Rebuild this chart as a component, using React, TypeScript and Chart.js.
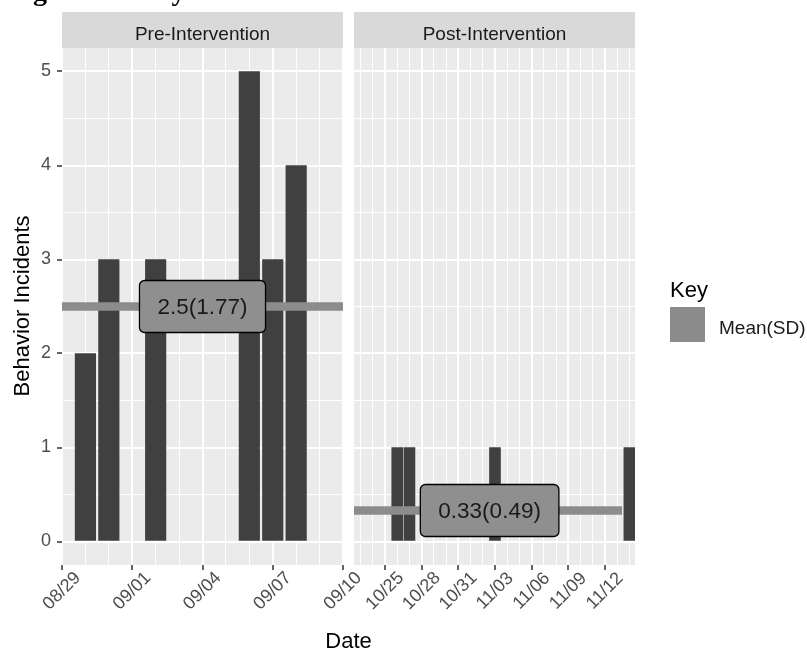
import React, { useEffect, useRef } from "react";
import { Chart, registerables } from "chart.js";

Chart.register(...registerables);

const FONT = '"Liberation Sans", Arial, Helvetica, sans-serif';
const SERIF = '"Liberation Serif", "Times New Roman", serif';
const W = 807;
const H = 650;

// ---------- data ----------
const preDates = ["08/30", "08/31", "09/02", "09/06", "09/07", "09/08"];
const preValues = [2, 3, 3, 5, 3, 4];
const postDates = ["10/26", "10/27", "11/03", "11/14"];
const postValues = [1, 1, 1, 1];

const preTickLabels = ["08/29", "09/01", "09/04", "09/07", "09/10"];
const postTickLabels = ["10/25", "10/28", "10/31", "11/03", "11/06", "11/09", "11/12"];
const yTickValues = [0, 1, 2, 3, 4, 5];

const preMean = 2.5;
const preSD = 1.77;
const postMean = 0.33;
const postSD = 0.49;

const panelTitles = ["Pre-Intervention", "Post-Intervention"];
const xTitle = "Date";
const yTitle = "Behavior Incidents";
const legendTitle = "Key";
const legendLabel = "Mean(SD)";
const headingText = "Figure 1. Daily";

// ---------- helpers ----------
function dayNum(md: string): number {
  const [m, d] = md.split("/").map(Number);
  return Date.UTC(2019, m - 1, d) / 86400000;
}

function fmtLabel(mean: number, sd: number) {
  return `${mean}(${sd})`;
}

type Panel = {
  dates: string[];
  values: number[];
  ticks: string[];
  xmin: number;
  xmax: number;
  lineX: [number, number];
  mean: number;
  label: string;
  labelX: number;
  title: string;
  padLeft: number;
  padRight: number;
  yAxisWidth: number;
  showYTicks: boolean;
  barThickness: number;
  drawGlobal: boolean;
};

const prePanel: Panel = {
  dates: preDates,
  values: preValues,
  ticks: preTickLabels,
  xmin: dayNum("08/29"),
  xmax: dayNum("09/10"),
  lineX: [dayNum("08/29"), dayNum("09/10")],
  mean: preMean,
  label: fmtLabel(preMean, preSD),
  labelX: dayNum("09/04"),
  title: panelTitles[0],
  padLeft: 0,
  padRight: W - 343,
  yAxisWidth: 62,
  showYTicks: true,
  barThickness: 20.5,
  drawGlobal: true,
};

const postPanel: Panel = {
  dates: postDates,
  values: postValues,
  ticks: postTickLabels,
  xmin: dayNum("10/22") + 0.46,
  xmax: dayNum("11/14") + 0.46,
  lineX: [dayNum("10/22") + 0.46, dayNum("11/13") + 0.4],
  mean: postMean,
  label: fmtLabel(postMean, postSD),
  labelX: dayNum("11/02") + 0.56,
  title: panelTitles[1],
  padLeft: 354,
  padRight: W - 635,
  yAxisWidth: 0,
  showYTicks: false,
  barThickness: 11,
  drawGlobal: false,
};

function roundRect(ctx: CanvasRenderingContext2D, x: number, y: number, w: number, h: number, r: number) {
  ctx.beginPath();
  ctx.moveTo(x + r, y);
  ctx.lineTo(x + w - r, y);
  ctx.arcTo(x + w, y, x + w, y + r, r);
  ctx.lineTo(x + w, y + h - r);
  ctx.arcTo(x + w, y + h, x + w - r, y + h, r);
  ctx.lineTo(x + r, y + h);
  ctx.arcTo(x, y + h, x, y + h - r, r);
  ctx.lineTo(x, y + r);
  ctx.arcTo(x, y, x + r, y, r);
  ctx.closePath();
}

function drawGlobal(ctx: CanvasRenderingContext2D) {
  ctx.save();
  // cut-off document heading
  ctx.fillStyle = "#000";
  ctx.font = `bold 28px ${SERIF}`;
  ctx.textAlign = "left";
  ctx.textBaseline = "alphabetic";
  ctx.fillText(headingText, 8, 0);

  // y title
  ctx.font = `22px ${FONT}`;
  ctx.textAlign = "center";
  ctx.textBaseline = "middle";
  ctx.save();
  ctx.translate(23, 306);
  ctx.rotate(-Math.PI / 2);
  ctx.fillText(yTitle, 0, 0);
  ctx.restore();

  // x title
  ctx.textBaseline = "alphabetic";
  ctx.fillText(xTitle, 348.5, 648);

  // legend
  ctx.textAlign = "left";
  ctx.fillText(legendTitle, 670, 297);
  ctx.fillStyle = "#8c8c8c";
  ctx.fillRect(670, 307, 35, 35);
  ctx.fillStyle = "#1a1a1a";
  ctx.font = `19px ${FONT}`;
  ctx.fillText(legendLabel, 719, 334);
  ctx.restore();
}

function buildConfig(p: Panel): any {
  const tickDays = p.ticks.map(dayNum);
  const isMajorX = (v: number) => tickDays.some((t) => Math.abs(t - v) < 1e-6);
  const dayGrid: number[] = [];
  for (let d = Math.ceil(p.xmin - 1e-9); d <= p.xmax + 1e-9; d++) dayGrid.push(d);
  const yGrid: number[] = [];
  for (let i = 0; i < yTickValues.length; i++) {
    yGrid.push(yTickValues[i]);
    if (i < yTickValues.length - 1) yGrid.push((yTickValues[i] + yTickValues[i + 1]) / 2);
  }
  const isMajorY = (v: number) => yTickValues.some((t) => Math.abs(t - v) < 1e-6);

  const plugin = {
    id: "panelDecor",
    beforeDraw(chart: any) {
      const { ctx, chartArea: a } = chart;
      ctx.save();
      ctx.fillStyle = "#ebebeb";
      ctx.fillRect(a.left, a.top, a.right - a.left, a.bottom - a.top);
      // strip
      ctx.fillStyle = "#d9d9d9";
      ctx.fillRect(a.left, 12, a.right - a.left, a.top - 12);
      ctx.fillStyle = "#1a1a1a";
      ctx.font = `19px ${FONT}`;
      ctx.textAlign = "center";
      ctx.textBaseline = "alphabetic";
      ctx.fillText(p.title, (a.left + a.right) / 2, 40);
      ctx.restore();
    },
    afterDatasetsDraw(chart: any) {
      const { ctx } = chart;
      const xs = chart.scales.x;
      const ys = chart.scales.y;
      const cx = xs.getPixelForValue(p.labelX);
      const cy = ys.getPixelForValue(p.mean);
      ctx.save();
      ctx.font = `22.5px ${FONT}`;
      const tw = ctx.measureText(p.label).width;
      const w = tw + 36;
      const h = 52;
      roundRect(ctx, cx - w / 2, cy - h / 2, w, h, 5);
      ctx.fillStyle = "#8f8f8f";
      ctx.fill();
      ctx.lineWidth = 1.3;
      ctx.strokeStyle = "#000";
      ctx.stroke();
      ctx.fillStyle = "#1a1a1a";
      ctx.textAlign = "center";
      ctx.textBaseline = "middle";
      ctx.fillText(p.label, cx, cy + 1);
      ctx.restore();
    },
    afterDraw(chart: any) {
      const { ctx } = chart;
      const xs = chart.scales.x;
      ctx.save();
      ctx.fillStyle = "#4d4d4d";
      ctx.font = `18px ${FONT}`;
      ctx.textAlign = "center";
      ctx.textBaseline = "middle";
      p.ticks.forEach((lab) => {
        const x = xs.getPixelForValue(dayNum(lab));
        ctx.save();
        ctx.translate(x, 591);
        ctx.rotate(-Math.PI / 4);
        ctx.fillText(lab, 0, 0);
        ctx.restore();
      });
      ctx.restore();
      if (p.drawGlobal) drawGlobal(ctx);
    },
  };

  return {
    type: "bar",
    data: {
      datasets: [
        {
          type: "line",
          data: [
            { x: p.lineX[0], y: p.mean },
            { x: p.lineX[1], y: p.mean },
          ],
          borderColor: "#8c8c8c",
          borderWidth: 8.5,
          borderCapStyle: "butt",
          pointRadius: 0,
          order: 0,
        },
        {
          type: "bar",
          data: p.dates.map((d, i) => ({ x: dayNum(d), y: p.values[i] })),
          backgroundColor: "#404040",
          borderWidth: 0,
          barThickness: p.barThickness,
          order: 1,
        },
      ],
    },
    options: {
      responsive: false,
      animation: false,
      events: [],
      layout: { padding: { left: p.padLeft, right: p.padRight, top: 48, bottom: 0 } },
      plugins: { legend: { display: false }, tooltip: { enabled: false } },
      scales: {
        x: {
          type: "linear",
          min: p.xmin,
          max: p.xmax,
          offset: false,
          afterBuildTicks: (s: any) => {
            s.ticks = dayGrid.map((v) => ({ value: v }));
          },
          afterFit: (s: any) => {
            s.height = 85;
          },
          ticks: { display: false, autoSkip: false },
          border: { display: false },
          grid: {
            offset: false,
            color: "#ffffff",
            lineWidth: (c: any) => (c.tick && isMajorX(c.tick.value) ? 2 : 1),
            drawTicks: true,
            tickLength: 5,
            tickWidth: 1.5,
            tickColor: (c: any) => (c.tick && isMajorX(c.tick.value) ? "#333333" : "rgba(0,0,0,0)"),
          },
        },
        y: {
          type: "linear",
          min: -0.25,
          max: 5.25,
          afterBuildTicks: (s: any) => {
            s.ticks = yGrid.map((v) => ({ value: v }));
          },
          afterFit: (s: any) => {
            s.width = p.yAxisWidth;
          },
          border: { display: false },
          ticks: {
            display: p.showYTicks,
            autoSkip: false,
            padding: 6,
            color: "#4d4d4d",
            font: { size: 18, family: FONT },
            callback: (v: number) => (isMajorY(v) ? String(v) : ""),
          },
          grid: {
            color: "#ffffff",
            lineWidth: (c: any) => (c.tick && isMajorY(c.tick.value) ? 2 : 1),
            drawTicks: p.showYTicks,
            tickLength: 5,
            tickWidth: 1.5,
            tickColor: (c: any) => (c.tick && isMajorY(c.tick.value) ? "#333333" : "rgba(0,0,0,0)"),
          },
        },
      },
    },
    plugins: [plugin],
  };
}

export default function App() {
  const leftRef = useRef<HTMLCanvasElement>(null);
  const rightRef = useRef<HTMLCanvasElement>(null);

  useEffect(() => {
    const c1 = new Chart(leftRef.current as HTMLCanvasElement, buildConfig(prePanel));
    const c2 = new Chart(rightRef.current as HTMLCanvasElement, buildConfig(postPanel));
    return () => {
      c1.destroy();
      c2.destroy();
    };
  }, []);

  const cstyle: React.CSSProperties = { position: "absolute", left: 0, top: 0, width: W, height: H };
  return (
    <div style={{ position: "fixed", left: 0, top: 0, width: W, height: H, background: "#ffffff", overflow: "hidden" }}>
      <canvas ref={leftRef} width={W} height={H} style={cstyle} />
      <canvas ref={rightRef} width={W} height={H} style={cstyle} />
    </div>
  );
}
